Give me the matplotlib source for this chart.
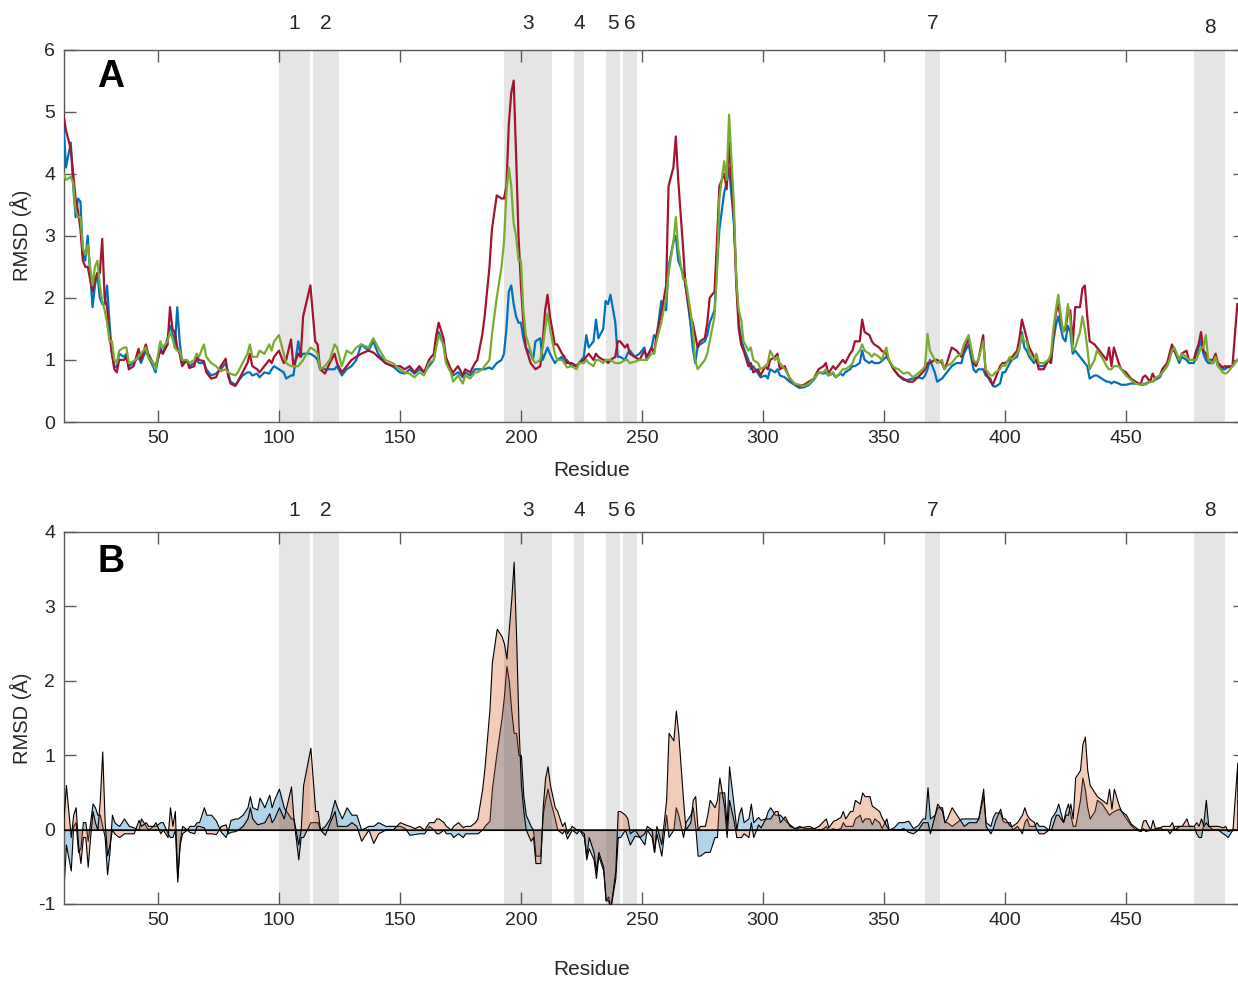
import numpy as np
import matplotlib
matplotlib.use("Agg")
import matplotlib.pyplot as plt
from matplotlib.transforms import blended_transform_factory

# -----------------------------
# Data
# -----------------------------
residue = [
    11, 12, 14, 15, 16, 17, 18, 19, 20, 21, 22, 23, 24, 25, 26, 27, 28, 29, 30, 31,
    32, 33, 34, 36, 37, 38, 40, 42, 43, 45, 46, 48, 49, 51, 52, 54, 55, 56, 57, 58,
    59, 60, 62, 63, 65, 66, 67, 69, 70, 72, 74, 76, 78, 79, 80, 82, 83, 85, 87, 88,
    89, 91, 92, 94, 96, 97, 98, 100, 102, 103, 105, 106, 108, 109, 110, 113, 115, 116, 117, 119,
    121, 123, 124, 126, 128, 130, 132, 134, 137, 139, 141, 144, 147, 150, 152, 154, 156, 158, 160, 162,
    164, 165, 166, 168, 169, 171, 172, 174, 176, 177, 179, 181, 182, 184, 185, 187, 188, 190, 192, 193,
    194, 195, 196, 197, 198, 199, 200, 201, 202, 204, 205, 206, 208, 209, 210, 211, 212, 214, 215, 217,
    218, 219, 221, 223, 224, 226, 227, 228, 230, 231, 232, 234, 235, 236, 237, 239, 240, 241, 243, 244,
    245, 247, 249, 251, 252, 254, 255, 256, 258, 260, 261, 263, 264, 265, 267, 268, 270, 271, 272, 273,
    274, 276, 277, 278, 280, 281, 282, 284, 285, 286, 288, 289, 290, 291, 292, 294, 295, 296, 298, 299,
    301, 302, 303, 305, 306, 307, 309, 311, 313, 315, 317, 319, 321, 323, 325, 326, 327, 329, 330, 332,
    333, 334, 336, 337, 338, 340, 341, 342, 344, 345, 346, 348, 349, 351, 352, 354, 356, 358, 360, 362,
    364, 366, 367, 368, 369, 371, 372, 374, 375, 376, 378, 380, 382, 383, 385, 387, 388, 389, 391, 392,
    394, 395, 396, 398, 399, 400, 402, 403, 405, 406, 407, 408, 409, 410, 412, 413, 414, 416, 418, 419,
    420, 421, 422, 424, 425, 426, 427, 428, 429, 431, 432, 433, 434, 435, 437, 438, 440, 442, 443, 444,
    445, 447, 448, 450, 452, 454, 456, 457, 458, 460, 461, 462, 464, 465, 467, 468, 469, 470, 472, 473,
    475, 476, 478, 479, 480, 481, 482, 483, 484, 486, 487, 488, 490, 491, 492, 494, 495, 496,
]

rmsd_blue = [
    4.8, 4.1, 4.5, 3.8, 3.3, 3.6, 3.55, 2.7, 2.6, 3.0, 2.4, 1.85, 2.2, 2.4, 2.0, 1.9, 1.9, 2.2, 1.6, 1.1,
    0.9, 0.88, 1.1, 1.05, 1.1, 0.9, 0.95, 1.05, 0.95, 1.15, 1.05, 0.9, 0.8, 1.2, 1.1, 1.35, 1.55, 1.45, 1.2, 1.85,
    1.3, 0.95, 1.0, 0.9, 0.95, 1.0, 0.95, 0.95, 0.85, 0.75, 0.78, 0.85, 0.95, 0.8, 0.65, 0.6, 0.65, 0.75, 0.8, 0.8,
    0.75, 0.78, 0.72, 0.8, 0.78, 0.85, 0.9, 0.85, 0.8, 0.7, 0.75, 0.75, 1.3, 1.05, 1.1, 1.1, 1.05, 1.0, 0.85, 0.85,
    0.85, 0.85, 0.9, 0.75, 0.85, 0.9, 1.0, 1.25, 1.15, 1.3, 1.1, 0.95, 0.9, 0.8, 0.78, 0.85, 0.78, 0.85, 0.8, 0.9,
    1.0, 1.25, 1.45, 1.25, 1.0, 0.85, 0.75, 0.8, 0.72, 0.8, 0.75, 0.85, 0.85, 0.85, 0.85, 0.88, 0.85, 0.95, 1.0, 1.1,
    1.5, 2.1, 2.2, 1.9, 1.7, 1.6, 1.6, 1.35, 1.2, 1.1, 1.0, 1.3, 1.35, 1.0, 1.1, 1.2, 1.1, 0.95, 1.0, 1.05,
    0.95, 1.0, 0.9, 0.9, 0.95, 1.05, 1.4, 1.2, 1.3, 1.65, 1.35, 1.5, 1.95, 1.9, 2.05, 1.6, 1.05, 1.05, 1.0, 1.1,
    1.15, 1.05, 1.1, 1.2, 1.0, 1.2, 1.4, 1.35, 1.95, 1.8, 2.5, 2.9, 3.0, 2.6, 2.4, 2.2, 1.6, 1.2, 0.95, 1.2,
    1.25, 1.3, 1.4, 1.6, 1.8, 2.5, 3.1, 3.7, 3.85, 4.1, 3.2, 2.3, 1.6, 1.35, 1.2, 1.0, 0.85, 0.9, 0.78, 0.72,
    0.75, 0.7, 0.85, 0.8, 0.85, 0.75, 0.72, 0.65, 0.6, 0.55, 0.56, 0.6, 0.68, 0.8, 0.78, 0.8, 0.75, 0.78, 0.72, 0.78,
    0.75, 0.8, 0.85, 0.9, 0.9, 0.95, 1.15, 1.0, 0.95, 0.98, 0.95, 0.95, 0.98, 1.05, 1.0, 0.85, 0.75, 0.68, 0.68, 0.7,
    0.72, 0.7, 0.75, 0.85, 1.0, 0.8, 0.65, 0.7, 0.75, 0.8, 0.9, 0.95, 0.95, 1.1, 1.25, 0.85, 0.8, 0.85, 0.85, 0.75,
    0.7, 0.58, 0.57, 0.62, 0.8, 0.8, 0.95, 1.0, 1.05, 1.2, 1.45, 1.2, 1.15, 1.05, 0.95, 1.0, 0.9, 0.9, 1.0, 0.95,
    1.3, 1.55, 1.7, 1.35, 1.3, 1.55, 1.45, 1.1, 1.15, 1.05, 1.0, 0.95, 0.9, 0.7, 0.75, 0.75, 0.7, 0.65, 0.65, 0.62,
    0.65, 0.62, 0.6, 0.6, 0.62, 0.62, 0.62, 0.6, 0.62, 0.65, 0.65, 0.68, 0.72, 0.8, 0.9, 1.05, 1.15, 1.15, 0.95, 1.05,
    1.0, 0.95, 0.95, 1.05, 1.2, 1.3, 1.1, 1.0, 0.95, 0.95, 1.05, 0.9, 0.85, 0.85, 0.9, 0.9, 0.95, 1.0,
]

rmsd_red = [
    4.95, 4.7, 4.4, 4.0, 3.6, 3.4, 3.1, 2.6, 2.5, 2.5, 2.3, 2.1, 2.3, 2.4, 2.4, 2.95, 2.0, 1.85, 1.4, 1.1,
    0.85, 0.8, 1.0, 1.0, 1.05, 0.85, 0.9, 1.18, 1.0, 1.25, 1.1, 0.95, 0.9, 1.15, 1.1, 1.25, 1.85, 1.5, 1.45, 1.2,
    1.1, 0.9, 1.0, 0.87, 0.9, 1.05, 1.0, 0.98, 0.8, 0.7, 0.72, 0.9, 1.02, 0.75, 0.62, 0.58, 0.65, 0.8, 0.95, 1.1,
    0.9, 0.85, 0.8, 0.9, 1.0, 0.95, 1.05, 1.15, 0.95, 1.0, 1.33, 0.9, 1.1, 1.05, 1.7, 2.2, 1.3, 1.25, 0.85, 0.78,
    0.95, 1.1, 0.95, 0.8, 0.9, 1.0, 1.05, 1.1, 1.15, 1.12, 1.05, 0.95, 0.9, 0.9, 0.85, 0.9, 0.8, 0.9, 0.8, 1.0,
    1.1, 1.4, 1.6, 1.35, 1.05, 0.85, 0.8, 0.9, 0.75, 0.85, 0.8, 0.95, 1.0, 1.4, 1.7, 2.5, 3.1, 3.65, 3.6, 3.6,
    3.8, 4.8, 5.3, 5.5, 4.3, 3.0, 2.2, 1.6, 1.2, 0.95, 0.9, 0.85, 0.9, 1.3, 1.8, 2.05, 1.7, 1.25, 1.25, 1.1,
    1.05, 0.95, 0.95, 0.9, 0.95, 1.0, 1.05, 1.1, 1.0, 1.1, 1.05, 1.0, 1.0, 0.95, 1.0, 1.05, 1.3, 1.3, 1.2, 1.25,
    1.1, 1.05, 1.0, 1.15, 1.05, 1.2, 1.1, 1.4, 1.75, 2.2, 3.8, 4.1, 4.6, 3.9, 2.8, 2.2, 1.7, 1.6, 1.4, 1.2,
    1.3, 1.35, 1.6, 2.0, 2.1, 2.9, 3.8, 4.0, 3.75, 4.5, 3.3, 2.2, 1.5, 1.25, 1.15, 0.9, 0.95, 0.8, 0.85, 0.75,
    0.9, 0.85, 1.0, 1.05, 1.1, 0.85, 0.9, 0.7, 0.62, 0.58, 0.6, 0.65, 0.7, 0.85, 0.9, 0.95, 0.78, 0.9, 0.85, 0.95,
    1.0, 0.95, 1.1, 1.15, 1.3, 1.3, 1.65, 1.45, 1.4, 1.3, 1.25, 1.2, 1.15, 1.1, 1.0, 0.85, 0.75, 0.7, 0.65, 0.65,
    0.72, 0.8, 0.85, 0.95, 0.95, 1.0, 1.0, 0.95, 0.85, 0.95, 1.2, 1.15, 1.05, 1.15, 1.35, 0.95, 0.9, 1.0, 1.4, 0.8,
    0.65, 0.6, 0.7, 0.9, 0.95, 0.95, 1.0, 1.05, 1.15, 1.35, 1.65, 1.5, 1.35, 1.2, 1.05, 1.0, 0.85, 0.85, 1.0, 0.95,
    1.4, 1.75, 1.9, 1.45, 1.5, 1.75, 1.8, 1.25, 1.85, 1.85, 2.15, 2.2, 1.7, 1.3, 1.25, 1.2, 1.1, 1.0, 1.2, 0.9,
    1.2, 0.95, 0.85, 0.8, 0.7, 0.65, 0.6, 0.72, 0.75, 0.65, 0.78, 0.7, 0.75, 0.85, 0.95, 1.1, 1.25, 1.15, 1.0, 1.1,
    1.15, 1.0, 1.0, 1.15, 1.25, 1.45, 1.15, 1.1, 1.0, 1.0, 1.1, 0.95, 0.88, 0.9, 0.88, 0.9, 1.4, 1.9,
]

rmsd_green = [
    4.0, 3.9, 3.95, 3.85, 3.4, 3.3, 3.3, 2.8, 2.7, 2.85, 2.5, 2.2, 2.5, 2.6, 2.2, 1.95, 1.8, 1.6, 1.3, 1.3,
    1.0, 0.95, 1.15, 1.2, 1.2, 0.95, 0.98, 1.05, 1.1, 1.2, 1.05, 0.95, 0.85, 1.3, 1.2, 1.3, 1.45, 1.35, 1.2, 1.15,
    1.15, 1.0, 1.0, 0.95, 1.0, 1.1, 1.05, 1.25, 1.05, 0.95, 0.9, 0.82, 0.85, 0.8, 0.78, 0.75, 0.8, 0.95, 1.1, 1.25,
    1.05, 1.05, 1.15, 1.1, 1.25, 1.15, 1.3, 1.4, 1.1, 0.95, 0.9, 0.9, 0.9, 0.95, 1.0, 1.2, 1.15, 1.1, 0.85, 0.9,
    1.0, 1.25, 1.2, 0.9, 1.15, 1.1, 1.2, 1.25, 1.2, 1.35, 1.2, 1.0, 0.95, 0.85, 0.8, 0.78, 0.72, 0.8, 0.75, 0.95,
    1.0, 1.2, 1.4, 1.25, 0.95, 0.8, 0.65, 0.75, 0.62, 0.75, 0.7, 0.8, 0.8, 0.85, 0.9, 1.0, 1.4, 2.0, 2.5, 2.9,
    3.7, 4.1, 3.8, 3.2, 3.0, 2.6, 2.6, 1.8, 1.4, 1.15, 1.0, 0.95, 1.0, 1.2, 1.5, 1.75, 1.5, 1.1, 1.0, 1.0,
    0.95, 0.88, 0.9, 0.85, 0.95, 0.95, 1.0, 0.95, 0.9, 1.0, 1.0, 0.95, 1.0, 1.0, 1.0, 0.95, 0.95, 0.95, 1.0, 1.0,
    0.95, 0.97, 1.0, 1.0, 1.0, 1.1, 1.1, 1.3, 1.6, 2.0, 2.4, 2.9, 3.3, 2.8, 2.3, 2.3, 1.8, 1.5, 1.0, 0.85,
    0.9, 1.0, 1.1, 1.3, 1.7, 2.4, 3.6, 4.2, 3.9, 4.95, 3.5, 2.3, 1.8, 1.65, 1.3, 1.15, 1.2, 1.0, 0.95, 0.85,
    0.9, 0.95, 1.15, 1.0, 1.05, 0.95, 0.85, 0.72, 0.62, 0.6, 0.58, 0.62, 0.7, 0.8, 0.8, 0.85, 0.75, 0.8, 0.72, 0.8,
    0.85, 0.85, 0.9, 0.95, 1.05, 1.15, 1.25, 1.15, 1.1, 1.05, 1.1, 1.05, 1.0, 1.2, 1.0, 0.88, 0.85, 0.78, 0.8, 0.72,
    0.78, 0.85, 0.9, 1.42, 1.15, 1.0, 0.95, 1.0, 0.85, 0.9, 0.95, 1.05, 1.1, 1.25, 1.4, 1.0, 0.95, 1.0, 1.3, 0.85,
    0.75, 0.75, 0.8, 0.85, 0.92, 0.9, 1.05, 1.0, 1.1, 1.2, 1.4, 1.3, 1.3, 1.1, 1.0, 1.1, 0.95, 0.95, 1.0, 1.1,
    1.5, 1.8, 2.05, 1.45, 1.55, 1.9, 1.65, 1.15, 1.2, 1.45, 1.7, 1.5, 1.2, 0.85, 1.0, 1.15, 1.05, 0.9, 0.85, 0.85,
    0.9, 0.9, 0.85, 0.75, 0.68, 0.62, 0.6, 0.62, 0.6, 0.65, 0.65, 0.7, 0.75, 0.8, 0.9, 1.0, 1.15, 1.2, 1.0, 1.1,
    1.05, 1.0, 1.0, 1.0, 1.1, 1.2, 1.2, 1.4, 1.0, 0.95, 1.05, 0.9, 0.8, 0.78, 0.8, 0.9, 0.95, 1.0,
]

# highlighted regions (start, end) and their labels
region_start = [100, 114, 193, 222, 235, 242, 367, 478]
region_end = [113, 125, 213, 226, 241, 248, 373, 491]
region_label = ["1", "2", "3", "4", "5", "6", "7", "8"]

assert len(residue) == len(rmsd_blue) == len(rmsd_red) == len(rmsd_green)

x = np.array(residue)
blue = np.array(rmsd_blue)
red = np.array(rmsd_red)
green = np.array(rmsd_green)

# differences shown in panel B
diff_red = red - blue
diff_green = green - blue

# -----------------------------
# Style
# -----------------------------
plt.rcParams["font.family"] = ["Liberation Sans", "DejaVu Sans"]
plt.rcParams["axes.unicode_minus"] = False

text_col = "#262626"
spine_col = "#5a5a5a"
shade_col = "#e5e5e5"

c_blue = "#0072BD"
c_red = "#A2142F"
c_green = "#77AC30"

fig = plt.figure(figsize=(12.38, 9.81), dpi=100)

ax_a = fig.add_axes([0.0513, 0.5698, 0.954, 0.3797])
ax_b = fig.add_axes([0.0513, 0.0785, 0.954, 0.3792])


def style_axes(ax):
    for sp in ax.spines.values():
        sp.set_color(spine_col)
        sp.set_linewidth(1.0)
    ax.tick_params(direction="in", length=8.5, width=1.0, color=spine_col,
                   top=True, right=True, labelsize=14, labelcolor=text_col, pad=6)
    ax.set_xlim(11, 499)
    ax.set_xticks([50, 100, 150, 200, 250, 300, 350, 400, 450])


def draw_regions(ax, label_y):
    trans = blended_transform_factory(ax.transData, ax.transAxes)
    for s, e, lab in zip(region_start, region_end, region_label):
        ax.axvspan(s, e, color=shade_col, lw=0, zorder=0)
        yy = label_y - (0.012 if (lab == "8" and ax is ax_a) else 0)
        ax.text((s + e) / 2, yy, lab, transform=trans, ha="center", va="center",
                fontsize=15, color=text_col)


# -----------------------------
# Panel A
# -----------------------------
style_axes(ax_a)
draw_regions(ax_a, 1.07)

ax_a.plot(x, blue, color=c_blue, lw=1.6, zorder=3)
ax_a.plot(x, red, color=c_red, lw=1.6, zorder=3)
ax_a.plot(x, green, color=c_green, lw=1.6, zorder=3)

ax_a.set_ylim(0, 6)
ax_a.set_yticks(range(0, 7))
ax_a.set_ylabel("RMSD (Å)", fontsize=14.5, color=text_col)
ax_a.yaxis.set_label_coords(-0.027, 0.5)
ax_a.set_xlabel("Residue", fontsize=15, color=text_col)
ax_a.xaxis.set_label_coords(0.4475, -0.105)
ax_a.text(0.04, 0.925, "A", transform=ax_a.transAxes, fontsize=27,
          fontweight="bold", ha="center", va="center", color="black")

# -----------------------------
# Panel B
# -----------------------------
style_axes(ax_b)
draw_regions(ax_b, 1.059)

ax_b.fill_between(x, 0, diff_green, facecolor=(0.0, 0.447, 0.741, 0.3),
                  edgecolor="black", lw=0.8, zorder=2)
ax_b.fill_between(x, 0, diff_red, facecolor=(0.85, 0.325, 0.098, 0.3),
                  edgecolor="black", lw=0.8, zorder=3)
ax_b.axhline(0, color="black", lw=0.8, zorder=4)

ax_b.set_ylim(-1, 4)
ax_b.set_yticks(range(-1, 5))
ax_b.set_ylabel("RMSD (Å)", fontsize=14.5, color=text_col)
ax_b.yaxis.set_label_coords(-0.027, 0.5)
ax_b.set_xlabel("Residue", fontsize=15, color=text_col)
ax_b.xaxis.set_label_coords(0.4475, -0.15)
ax_b.text(0.04, 0.919, "B", transform=ax_b.transAxes, fontsize=27,
          fontweight="bold", ha="center", va="center", color="black")

fig.savefig("out.png", dpi=100)
